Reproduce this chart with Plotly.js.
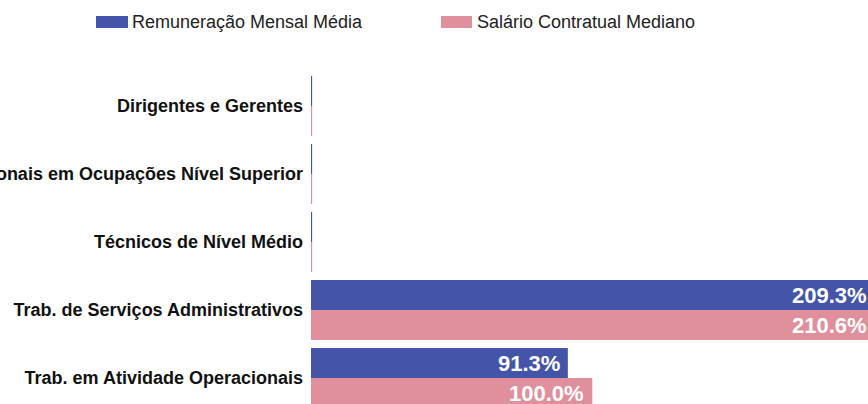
<!DOCTYPE html>
<html><head><meta charset="utf-8">
<script src="https://cdn.plot.ly/plotly-3.0.1.min.js"></script>
<style>html,body{margin:0;padding:0;background:#fff}#chart{width:868px;height:404px}</style>
</head><body><div id="chart"></div>
<script>
const categories = ["Dirigentes e Gerentes","Profissionais em Ocupações Nível Superior","Técnicos de Nível Médio","Trab. de Serviços Administrativos","Trab. em Atividade Operacionais"];
const seriesNames = ["Remuneração Mensal Média","Salário Contratual Mediano"];
const remuneracao = [0.4, 0.4, 0.4, 209.3, 91.3];
const salario = [0.4, 0.4, 0.4, 210.6, 100.0];
const remuneracaoLabels = ["", "", "", "209.3%", "91.3%"];
const salarioLabels = ["", "", "", "210.6%", "100.0%"];
const colors = ["#4455a9", "#e08f9c"];
const xMax = 198;

const W = 868, H = 404, ML = 311, MT = 72;
const px2x = p => (p - ML) / (W - ML);
const px2y = p => (H - p) / (H - MT);
const FONT = 'Liberation Sans, Arial, sans-serif';

const traces = [
  {type:'bar', orientation:'h', name:seriesNames[0], y:categories, x:remuneracao, marker:{color:colors[0]}, hoverinfo:'none'},
  {type:'bar', orientation:'h', name:seriesNames[1], y:categories, x:salario, marker:{color:colors[1]}, hoverinfo:'none'}
];

// value labels, anchored at the visible end of each bar
const valueAnnotations = [];
[[remuneracao, remuneracaoLabels, 15], [salario, salarioLabels, -15]].forEach(([vals, labels, ys]) => {
  vals.forEach((v, i) => {
    if (!labels[i]) return;
    const clipped = v > xMax;
    valueAnnotations.push({
      xref:'x', yref:'y', x: clipped ? xMax : v, y: categories[i], yshift: ys, xshift: clipped ? 1 : -6,
      xanchor:'right', yanchor:'middle', text: labels[i], showarrow:false,
      font:{family:FONT, size:22, color:'#ffffff', weight:'bold'}
    });
  });
});

const legendFont = {family:FONT, size:18, color:'#222222'};
const layout = {
  width:W, height:H, margin:{l:ML, r:0, t:MT, b:0, autoexpand:false},
  paper_bgcolor:'#ffffff', plot_bgcolor:'#ffffff',
  barmode:'group', bargap:0.118, bargroupgap:0,
  showlegend:false,
  font:{family:FONT},
  xaxis:{range:[0,xMax], showgrid:false, zeroline:false, showticklabels:false, showline:false, ticks:''},
  yaxis:{type:'category', range:[4.5 - 8/68, -0.5], showgrid:false, zeroline:false, showline:false, ticks:'',
         ticklabelstandoff:7, automargin:false,
         tickfont:{family:FONT, size:18, color:'#111111', weight:'bold'}},
  shapes:[
    {type:'rect', xref:'paper', yref:'paper', x0:px2x(96), x1:px2x(128), y0:px2y(28), y1:px2y(16), fillcolor:colors[0], line:{width:0}},
    {type:'rect', xref:'paper', yref:'paper', x0:px2x(441), x1:px2x(472), y0:px2y(28), y1:px2y(16), fillcolor:colors[1], line:{width:0}}
  ],
  annotations:[
    {xref:'paper', yref:'paper', x:px2x(130), y:px2y(22), xanchor:'left', yanchor:'middle', text:seriesNames[0], showarrow:false, font:legendFont},
    {xref:'paper', yref:'paper', x:px2x(475), y:px2y(22), xanchor:'left', yanchor:'middle', text:seriesNames[1], showarrow:false, font:legendFont}
  ].concat(valueAnnotations)
};
Plotly.newPlot('chart', traces, layout, {displayModeBar:false, staticPlot:true});
</script></body></html>
